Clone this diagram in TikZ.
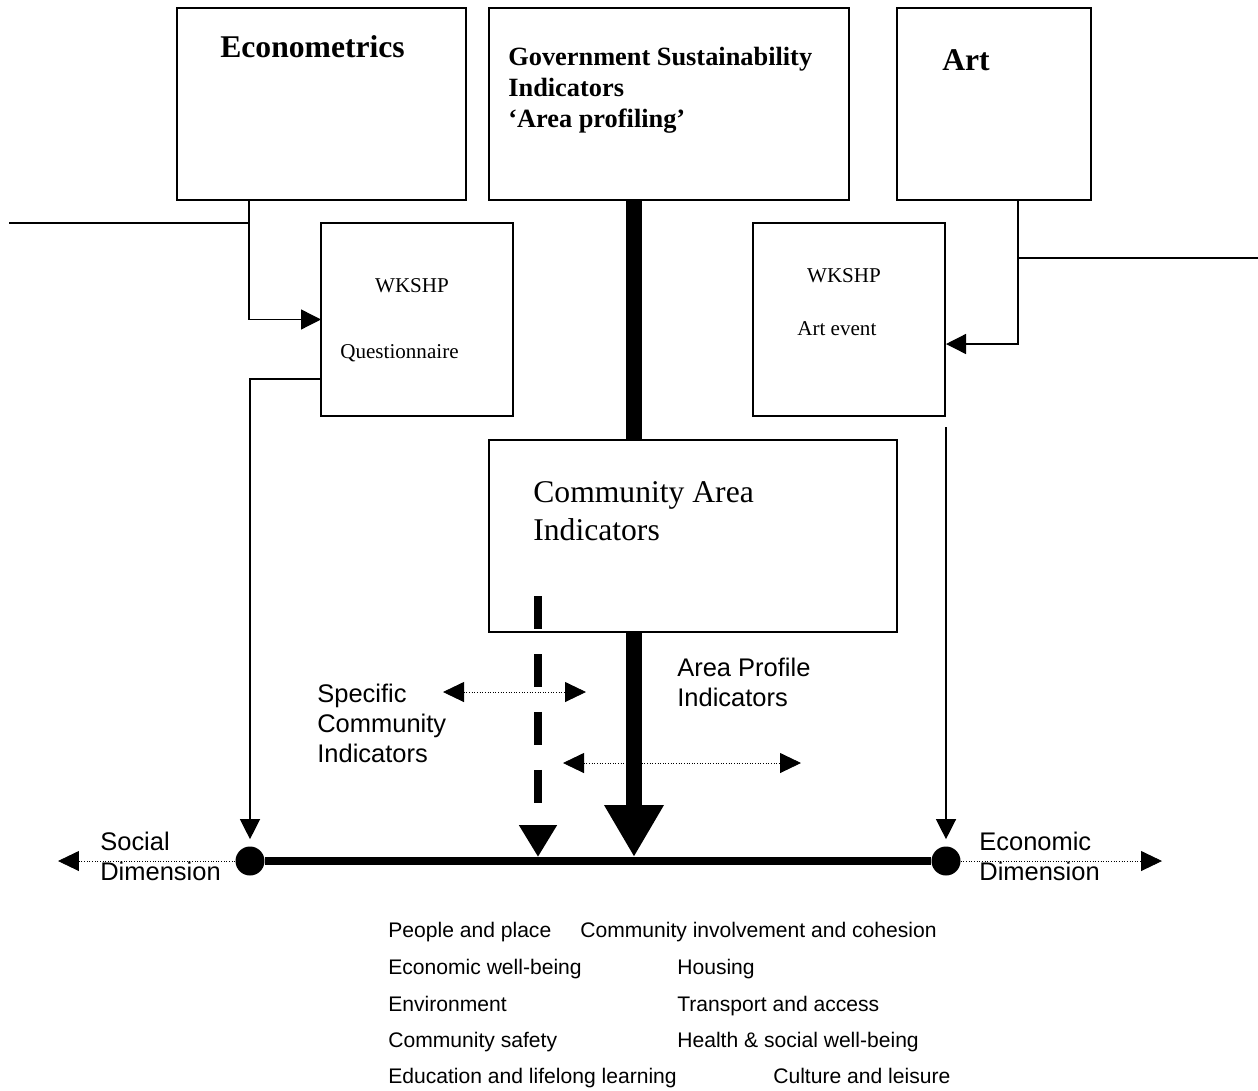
\documentclass[tikz,border=0pt]{standalone}
\usepackage{fontspec}
\setmainfont{Liberation Serif}
\setsansfont{Liberation Sans}
\usepackage{tikz}
\usetikzlibrary{arrows.meta}

\begin{document}
\begin{tikzpicture}[x=0.02cm,y=-0.02cm,
  box/.style={draw,line width=0.75pt,anchor=north west,inner sep=0pt,outer sep=0pt},
  txt/.style={inner sep=0pt,anchor=base west},
  lab/.style={txt,align=left,font=\sffamily\fontsize{14.5}{17}\selectfont},
  lst/.style={txt,font=\sffamily\fontsize{12}{14}\selectfont},
  dot/.style={circle,fill,inner sep=0pt,minimum size=0.58cm},
  arr/.style={line width=0.75pt,-{Triangle[length=0.4cm,width=0.4cm]}},
  dotarr/.style={densely dotted,line width=0.5pt,-{Triangle[length=0.42cm,width=0.4cm]}},
  twoarr/.style={dotarr,{Triangle[length=0.42cm,width=0.4cm]}-{Triangle[length=0.42cm,width=0.4cm]}}]
\useasboundingbox (0,0) rectangle (1258,1090);
% the three sources
\node[box,minimum width=5.78cm,minimum height=3.84cm] (econ) at (177,8) {};
\node[box,minimum width=7.2cm,minimum height=3.84cm] (gov) at (489,8) {};
\node[box,minimum width=3.88cm,minimum height=3.84cm] (art) at (897,8) {};
\node[txt,font=\bfseries\fontsize{18}{21}\selectfont] (econT) at (220,57) {Econometrics};
\node[txt,align=left,font=\bfseries\fontsize{15}{17.6}\selectfont] (govT) at (508,127) {Government Sustainability\\Indicators\\`Area profiling'};
\node[txt,font=\bfseries\fontsize{18}{21}\selectfont] (artT) at (942,70) {Art};
% workshops
\node[box,minimum width=3.84cm,minimum height=3.86cm] (wkq) at (321,223) {};
\node[box,minimum width=3.84cm,minimum height=3.86cm] (wka) at (753,223) {};
\node[txt,anchor=base,font=\fontsize{12}{14}\selectfont] (wkqT) at (412,292) {WKSHP};
\node[txt,font=\fontsize{12}{14}\selectfont] (qT) at (340,358) {Questionnaire};
\node[txt,anchor=base,font=\fontsize{12}{14}\selectfont] (wkaT) at (844,282) {WKSHP};
\node[txt,font=\fontsize{12}{14}\selectfont] (aeT) at (797,335) {Art event};
% community area indicators
\node[box,minimum width=8.16cm,minimum height=3.84cm] (cai) at (489,440) {};
\node[txt,align=left,font=\fontsize{18}{21.5}\selectfont] (caiT) at (533,540) {Community Area\\Indicators};
% axis
\node[dot] (soc) at (250,861) {};
\node[dot] (eco) at (946,861) {};
\draw[line width=4.5pt] (soc) -- (eco);
\coordinate (sl) at (58,861);
\coordinate (sr) at (1162,861);
\draw[dotarr] (soc) -- (sl);
\draw[dotarr] (eco) -- (sr);
\node[lab] (socT) at (100,880) {Social\\Dimension};
\node[lab] (ecoT) at (979,880) {Economic\\Dimension};
% left side lines
\coordinate (lin) at (9,223);
\coordinate (ej) at (249,223);
\coordinate (qout) at (321,379);
\draw[line width=0.75pt] (lin) -- (ej);
\draw[arr] (econ.south -| ej) |- (wkq.west);
\draw[arr,shorten >=0.14cm] (qout) -| (soc.north);
% right side lines
\coordinate (rin) at (1258,258);
\coordinate (aj) at (1018,258);
\coordinate (ain) at (946,344);
\coordinate (aout) at (946,427);
\draw[line width=0.75pt] (rin) -- (aj);
\draw[arr] (art.south -| aj) |- (ain);
\draw[arr,shorten >=0.14cm] (aout) -- (eco.north);
% thick arrows
\coordinate (ap) at (634,857);
\coordinate (ds) at (538,596);
\coordinate (sp) at (538,857);
\draw[line width=9pt] (gov.south -| ap) -- (cai.north -| ap);
\draw[line width=9pt,-{Triangle[length=1.04cm,width=1.12cm]}] (cai.south -| ap) -- (ap);
\draw[line width=5pt,dash pattern=on 0.66cm off 0.5cm,-{Triangle[length=0.64cm,width=0.72cm]}] (ds) -- (sp);
% indicator labels
\coordinate (d1l) at (443,692);
\coordinate (d1r) at (586,692);
\coordinate (d2l) at (563,763);
\coordinate (d2r) at (801,763);
\draw[twoarr] (d1l) -- (d1r);
\draw[twoarr] (d2l) -- (d2r);
\node[lab] (spT) at (317,762) {Specific\\Community\\Indicators};
\node[lab] (apT) at (677,706) {Area Profile\\Indicators};
% list of themes
\foreach \n/\x/\y/\t in {1/388/937/People and place, 2/580/937/Community involvement and cohesion,
  3/388/974/Economic well-being, 4/677/974/Housing,
  5/388/1011/Environment, 6/677/1011/Transport and access,
  7/388/1047/Community safety, 8/677/1047/Health \& social well-being,
  9/388/1083/Education and lifelong learning, 10/773/1083/Culture and leisure}
  \node[lst] (l\n) at (\x,\y) {\t};
\end{tikzpicture}
\end{document}
